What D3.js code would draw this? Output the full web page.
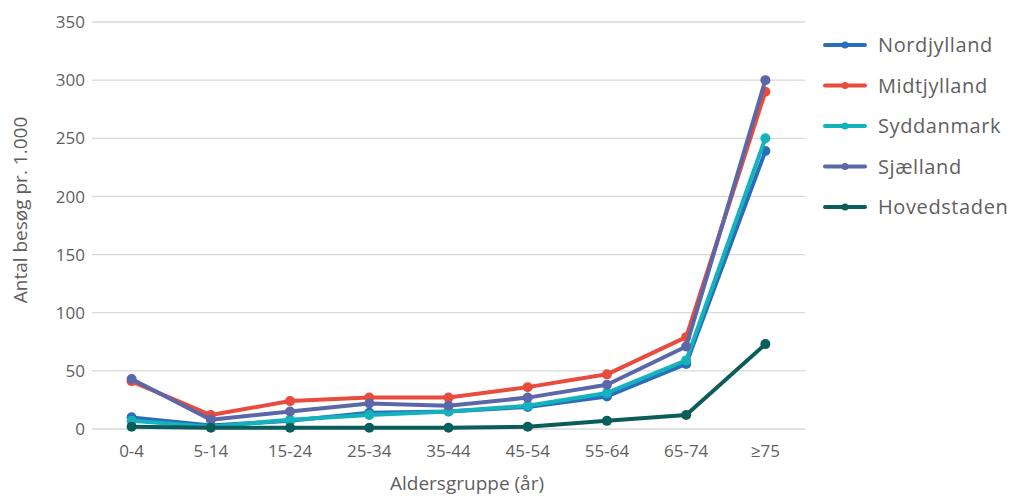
<!DOCTYPE html>
<html><head><meta charset="utf-8">
<script src="https://cdn.jsdelivr.net/npm/d3@7"></script>
<style>body{margin:0;background:#fff;} text{font-family:"Open Sans", Lato, sans-serif;}</style>
</head><body>
<svg id="c" width="1014" height="498"></svg>
<script>
const categories = ["0-4","5-14","15-24","25-34","35-44","45-54","55-64","65-74","≥75"];
const seriesNames = ["Nordjylland","Midtjylland","Syddanmark","Sjælland","Hovedstaden"];
const nordjylland = [10, 3, 7, 14, 15, 19, 28, 56, 239];
const midtjylland = [41, 12, 24, 27, 27, 36, 47, 79, 290];
const syddanmark = [7, 2, 8, 12, 15, 20, 31, 59, 250];
const sjaelland = [43, 8, 15, 22, 20, 27, 38, 71, 300];
const hovedstaden = [2, 1, 1, 1, 1, 2, 7, 12, 73];
const yTicks = [0,50,100,150,200,250,300,350];
const colors = ["#2a6ebb","#e84c3d","#14b2bc","#5b67a8","#0b5d5b"];
const values = [nordjylland, midtjylland, syddanmark, sjaelland, hovedstaden];

(function(){
const svg = d3.select("#c");
const pL = 92, pR = 805, pT = 22, pB = 429;
const x = d3.scalePoint().domain(categories).range([pL, pR]).padding(0.5);
const y = d3.scaleLinear().domain([0,350]).range([pB, pT]);
const textCol = "#5f5f5f";

svg.append("g").selectAll("line").data(yTicks).join("line")
  .attr("x1", pL).attr("x2", pR)
  .attr("y1", d=>y(d)).attr("y2", d=>y(d))
  .attr("stroke", "#d9d9d9").attr("stroke-width", 1.3);

svg.append("g").selectAll("text").data(yTicks).join("text")
  .attr("x", 85).attr("y", d=>y(d)).attr("dy","0.36em")
  .attr("text-anchor","end").attr("font-size",17).attr("fill",textCol)
  .text(d=>d);

svg.append("g").selectAll("text").data(categories).join("text")
  .attr("x", d=>x(d)).attr("y", 457)
  .attr("text-anchor","middle").attr("font-size",17).attr("fill",textCol)
  .text(d=>d);

svg.append("text").attr("x", 467).attr("y", 490).attr("text-anchor","middle")
  .attr("font-size",19).attr("fill",textCol).text("Aldersgruppe (år)");
svg.append("text").attr("transform","translate(27,210) rotate(-90)")
  .attr("text-anchor","middle").attr("font-size",19).attr("fill",textCol)
  .text("Antal besøg pr. 1.000");

const line = d3.line().x((d,i)=>x(categories[i])).y(d=>y(d));
values.forEach((vals, si) => {
  const g = svg.append("g");
  g.append("path").attr("d", line(vals)).attr("fill","none")
    .attr("stroke", colors[si]).attr("stroke-width", 4).attr("stroke-linejoin","round");
  g.selectAll("circle").data(vals).join("circle")
    .attr("cx",(d,i)=>x(categories[i])).attr("cy", d=>y(d)).attr("r",5)
    .attr("fill", colors[si]);
});

const leg = svg.append("g");
seriesNames.forEach((n, i) => {
  const yy = 45 + i*40.5;
  leg.append("line").attr("x1",825).attr("x2",865).attr("y1",yy).attr("y2",yy)
    .attr("stroke",colors[i]).attr("stroke-width",4).attr("stroke-linecap","round");
  leg.append("circle").attr("cx",845).attr("cy",yy).attr("r",3.5).attr("fill",colors[i]);
  leg.append("text").attr("x",878).attr("y",yy).attr("dy","0.36em")
    .attr("font-size",20).attr("letter-spacing",0.6).attr("fill",textCol).text(n);
});
})();
</script>
</body></html>
